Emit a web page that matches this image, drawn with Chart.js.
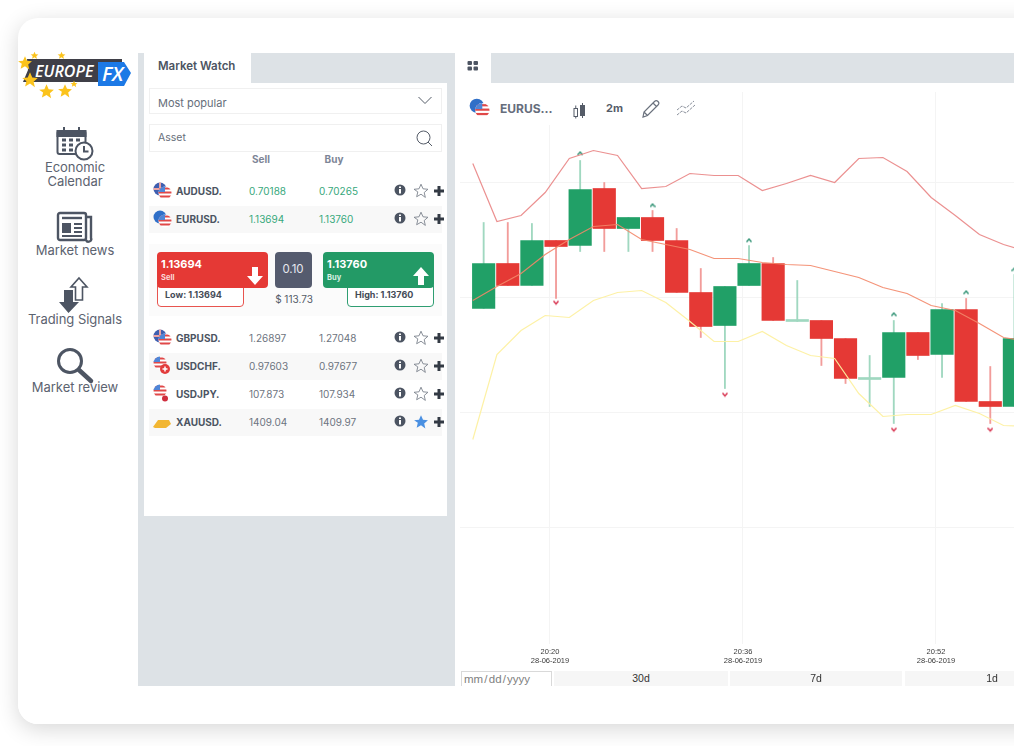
<!DOCTYPE html>
<html>
<head>
<meta charset="utf-8">
<title>Market Watch</title>
<script src="https://cdn.jsdelivr.net/npm/chart.js@4"></script>
<style>
  html, body { margin: 0; width: 1014px; height: 746px; overflow: hidden; background: #fff; font-family: Inter, sans-serif; }
  .abs, .abs * { box-sizing: border-box; }
  .abs { position: absolute; }
  .t { position: absolute; white-space: nowrap; line-height: 14px; transform: translateY(-50%); }
  .c { transform: translate(-50%, -50%); }
  #card { left: 18px; top: 18px; width: 1100px; height: 706px; background: #fff; border-radius: 20px; box-shadow: 0 5px 22px rgba(0,0,0,.16); }
  #clip { left: 0; top: 0; width: 1014px; height: 746px; overflow: hidden; }
  .side { color: #5c6370; font-size: 13px; letter-spacing: -.05px; margin-top: -1px; }
  .row { left: 149px; width: 293px; height: 27px; }
  .alt { background: #f8f8f8; }
  .asset { font-size: 10px; font-weight: 700; color: #4c5462; }
  .price { font-size: 10px; color: #6d7480; }
  .up { color: #37a87c; }
  .btn { background: #f6f6f6; top: 671px; height: 15px; }
</style>
</head>
<body>
<svg width="0" height="0" style="position:absolute">
  <defs>
    <symbol id="star" viewBox="0 0 24 24"><path d="M12 1.8l3 6.9 7.4.7-5.6 4.9 1.7 7.3L12 16.8l-6.5 3.8 1.7-7.3L1.600 9.400l7.400-.7z"/></symbol>
    <clipPath id="cUS"><circle cx="13" cy="12" r="6.500"/></clipPath>
    <symbol id="us" viewBox="0 0 20 20">
      <g clip-path="url(#cUS)">
        <rect x="6" y="5" width="14" height="14" fill="#fff"/>
        <rect x="6" y="6.500" width="14" height="2" fill="#e04848"/>
        <rect x="6" y="10.500" width="14" height="2" fill="#e04848"/>
        <rect x="6" y="14.500" width="14" height="2" fill="#e04848"/>
        <rect x="6" y="5" width="7" height="6" fill="#4f86d8"/>
      </g>
    </symbol>
  </defs>
</svg>
<div id="clip" class="abs">
  <div id="card" class="abs"></div>

  <!-- grey background panels -->
  <div class="abs" style="left:138px;top:53px;width:900px;height:633px;background:#dde2e6"></div>
  <div class="abs" style="left:144px;top:53px;width:107px;height:31px;background:#fff"></div>
  <div class="abs" style="left:144px;top:83px;width:303px;height:433px;background:#fff"></div>
  <div class="abs" style="left:455px;top:53px;width:36px;height:31px;background:#fff"></div>
  <div class="abs" style="left:455px;top:83px;width:600px;height:603px;background:#fff"></div>

  <!-- logo -->
  <svg class="abs" style="left:18px;top:48px" width="118" height="56" viewBox="18 48 118 56">
    <path d="M27 59H122V82H23l5-12z" fill="#3f3f47"/>
    <path d="M98 62H124L131 73 124 86H98z" fill="#1c79e6"/>
    <text x="35" y="77" font-size="16" font-weight="600" font-style="italic" fill="#fff" font-family="'Open Sans'">EUROPE</text>
    <text x="102" y="81" font-size="20" font-weight="600" font-style="italic" fill="#fff" font-family="'Open Sans'">FX</text>
    <g fill="#fbc31c">
      <use href="#star" x="17" y="55" width="16" height="16"/>
      <use href="#star" x="21" y="71" width="18" height="18"/>
      <use href="#star" x="38" y="83" width="17" height="17"/>
      <use href="#star" x="57" y="83" width="16" height="16"/>
      <use href="#star" x="30" y="51" width="9" height="9"/>
      <use href="#star" x="57" y="51" width="9" height="9"/>
      <use href="#star" x="70" y="80" width="8" height="8"/>
    </g>
  </svg>

  <!-- sidebar -->
  <svg class="abs" style="left:55px;top:125px" width="42" height="38" viewBox="0 0 42 38" fill="none" stroke="#4d5563" stroke-width="2">
    <rect x="2.500" y="6" width="28" height="23" rx="2"/>
    <rect x="2.500" y="6" width="28" height="5" fill="#4d5563"/>
    <path d="M9 2v6M24 2v6"/>
    <path d="M7 15h4M14 15h4M21 15h4M7 20h4M14 20h4M7 25h4M14 25h4" stroke-width="3"/>
    <circle cx="29" cy="26" r="8.500" fill="#fff"/><path d="M29 21v5.500h4.500"/>
  </svg>
  <div class="t c side" style="left:75px;top:168px">Economic</div>
  <div class="t c side" style="left:75px;top:182px">Calendar</div>
  <svg class="abs" style="left:55px;top:210px" width="40" height="34" viewBox="0 0 40 34" fill="none" stroke="#4d5563" stroke-width="2.400">
    <rect x="3" y="3" width="28" height="27" rx="2"/>
    <path d="M31 7h5v21a2.500 2.500 0 0 1-5 2" />
    <path d="M7 8h20" /><rect x="7" y="13" width="9" height="10" fill="#4d5563" stroke="none"/>
    <path d="M19 14h8M19 18h8M19 22h8M7 26h20" stroke-width="2"/>
  </svg>
  <div class="t c side" style="left:75px;top:251px">Market news</div>
  <svg class="abs" style="left:58px;top:276px" width="32" height="39" viewBox="0 0 32 39">
    <path d="M21 2l8 9h-4.500v13h-7V11H13z" fill="#fff" stroke="#4d5563" stroke-width="1.600"/>
    <path d="M6 14h9v12h6L10.500 37 1 26h5z" fill="#4d5563"/>
  </svg>
  <div class="t c side" style="left:75px;top:320px">Trading Signals</div>
  <svg class="abs" style="left:55px;top:345px" width="42" height="42" viewBox="0 0 42 42" fill="none" stroke="#4d5563">
    <circle cx="15" cy="16" r="11.500" stroke-width="3"/><path d="M24 25l12 11" stroke-width="4.500" stroke-linecap="round"/>
  </svg>
  <div class="t c side" style="left:75px;top:388px">Market review</div>

  <!-- market watch panel -->
  <div class="t" style="left:158px;top:66px;font-size:11.500px;font-weight:600;color:#4c5462">Market Watch</div>
  <div class="abs" style="left:149px;top:88px;width:293px;height:26px;border:1px solid #f0f0f0"></div>
  <div class="t" style="left:158px;top:103px;font-size:11px;color:#666e7a">Most popular</div>
  <svg class="abs" style="left:418px;top:96px" width="14" height="9" fill="none" stroke="#555c68"><path d="M.5 1l6.500 6.500L13.500 1"/></svg>
  <div class="abs" style="left:149px;top:124px;width:293px;height:28px;border:1px solid #f0f0f0"></div>
  <div class="t" style="left:158px;top:137.500px;font-size:10.500px;color:#666e7a">Asset</div>
  <svg class="abs" style="left:416px;top:130px" width="17" height="17" fill="none" stroke="#555c68"><circle cx="7.500" cy="7.500" r="6.500"/><path d="M12 12l4 4"/></svg>
  <div class="t c" style="left:261px;top:159px;font-size:10px;font-weight:700;color:#7d8597">Sell</div>
  <div class="t c" style="left:334px;top:159px;font-size:10px;font-weight:700;color:#7d8597">Buy</div>
  <div id="rows"></div>

  <!-- order ticket -->
  <div class="abs" style="left:149px;top:244px;width:293px;height:72px;background:#fbfbfb"></div>
  <div class="abs" style="left:157px;top:285px;width:87px;height:22px;border:1px solid #e8544f;border-radius:0 0 4px 4px;background:#fff"></div>
  <div class="abs" style="left:347px;top:285px;width:87px;height:22px;border:1px solid #2f9e72;border-radius:0 0 4px 4px;background:#fff"></div>
  <div class="abs" style="left:157px;top:252px;width:111px;height:36px;background:#e53935;border-radius:4px"></div>
  <div class="abs" style="left:323px;top:252px;width:111px;height:36px;background:#239a66;border-radius:4px"></div>
  <div class="abs" style="left:275px;top:252px;width:37px;height:36px;background:#555b6e;border-radius:4px"></div>
  <div class="t" style="left:161px;top:264px;font-size:11px;font-weight:700;color:#fff">1.13694</div>
  <div class="t" style="left:161px;top:278px;font-size:7.500px;font-weight:700;color:#fbdada">Sell</div>
  <div class="t" style="left:327px;top:264px;font-size:11px;font-weight:700;color:#fff">1.13760</div>
  <div class="t" style="left:327px;top:278px;font-size:7.500px;font-weight:700;color:#d8f0e4">Buy</div>
  <div class="t c" style="left:293px;top:269px;font-size:11.500px;color:#e6e8ee">0.10</div>
  <div class="t c" style="left:294px;top:299px;font-size:10px;color:#555c68">$ 113.73</div>
  <div class="t" style="left:165px;top:295px;font-size:9px;font-weight:700;color:#444b57">Low: 1.13694</div>
  <div class="t" style="left:355px;top:295px;font-size:9px;font-weight:700;color:#444b57">High: 1.13760</div>
  <svg class="abs" style="left:247px;top:267px" width="16" height="18" fill="#fff"><path d="M5 0h6v9h5l-8 9-8-9h5z"/></svg>
  <svg class="abs" style="left:413px;top:267px" width="16" height="18" fill="#fff"><path d="M5 18h6V9h5L8 0 0 9h5z"/></svg>

  <!-- chart -->
  <canvas id="chart" class="abs" width="560" height="580" style="left:460px;top:92px"></canvas>
  <div class="abs" style="left:459px;top:89px;width:255px;height:36px;background:#fff"></div>

  <!-- chart toolbar -->
  <svg class="abs" style="left:465px;top:60px" width="16" height="12" fill="#4c5462"><rect x="2.500" y="1" width="4.500" height="4" rx="1"/><rect x="8.500" y="1" width="4.500" height="4" rx="1"/><rect x="2.500" y="6.500" width="4.500" height="4" rx="1"/><rect x="8.500" y="6.500" width="4.500" height="4" rx="1"/></svg>
  <svg class="abs" style="left:468px;top:97px" width="22" height="22" viewBox="0 0 20 20"><circle cx="8" cy="8" r="6.500" fill="#2f6fc8"/><use href="#us" width="20" height="20"/></svg>
  <div class="t" style="left:500px;top:109px;font-size:12px;font-weight:700;color:#666d7c">EURUS...</div>
  <svg class="abs" style="left:573px;top:102px" width="13" height="17" fill="none" stroke="#555c68"><rect x="1" y="6.500" width="3.500" height="8"/><path d="M2.750 3.500v3M2.750 14.500v2"/><rect x="7.500" y="3.500" width="4" height="10" fill="#555c68"/><path d="M9.500 1v3M9.500 13v3"/></svg>
  <div class="t" style="left:606px;top:108px;font-size:11px;font-weight:700;color:#555c68">2m</div>
  <svg class="abs" style="left:641px;top:99px" width="20" height="20" fill="none" stroke="#6a717d" stroke-width="1.200"><path d="M2 18l1-5L13.500 2.500a2 2 0 0 1 3.500 3.500L6.500 16.500zM3 13l3.500 3.500M12 4l3.500 3.500"/></svg>
  <svg class="abs" style="left:676px;top:100px" width="20" height="17" fill="none" stroke="#8a909b"><path d="M1 15l5-4 4 2 9-8M1 10l5-4 4 2 8-7" stroke-dasharray="3 1"/></svg>

  <!-- range row -->
  <div class="abs" style="left:461px;top:671px;width:91px;height:20px;border:1px solid #d9d9d9;background:#fff"></div>
  <div class="t" style="left:464px;top:679px;font:11.500px 'Liberation Sans';word-spacing:-2px;color:#808080">mm / dd / yyyy</div>
  <div class="abs" style="left:552px;top:671px;width:2px;height:15px;background:#fff"></div>
  <div class="abs btn" style="left:554px;width:174px"></div>
  <div class="abs btn" style="left:730px;width:172px"></div>
  <div class="abs btn" style="left:905px;width:174px"></div>
  <div class="t c" style="left:641px;top:678px;font:10.500px 'Liberation Sans';color:#333">30d</div>
  <div class="t c" style="left:816px;top:678px;font:10.500px 'Liberation Sans';color:#333">7d</div>
  <div class="t c" style="left:992px;top:678px;font:10.500px 'Liberation Sans';color:#333">1d</div>

  <!-- cover below the panels -->
  <div class="abs" style="left:18px;top:686px;width:1100px;height:38px;background:#fff;border-radius:0 0 20px 20px"></div>
</div>

<script>
// quotes table
const assets = ["AUDUSD.", "EURUSD.", "GBPUSD.", "USDCHF.", "USDJPY.", "XAUUSD."];
const sells = ["0.70188", "1.13694", "1.26897", "0.97603", "107.873", "1409.04"];
const buys = ["0.70265", "1.13760", "1.27048", "0.97677", "107.934", "1409.97"];
const rowY = [191, 219, 338, 366, 394, 422];

// candles, 2m, times in minutes of the day
const candleTimes = [1214.5, 1216.5, 1218.5, 1220.5, 1222.5, 1224.5, 1226.5, 1228.5, 1230.5, 1232.5, 1234.5, 1236.5,
  1238.5, 1240.5, 1242.5, 1244.5, 1246.5, 1248.5, 1250.5, 1252.5, 1254.5, 1256.5, 1258.5];
const opens = [1.13689, 1.13734, 1.13712, 1.13757, 1.13752, 1.13809, 1.13769, 1.13780, 1.13757, 1.13705, 1.13672, 1.13712,
  1.13734, 1.13676, 1.13677, 1.13659, 1.13618, 1.13620, 1.13665, 1.13643, 1.13688, 1.13596, 1.13591];
const closes = [1.13734, 1.13712, 1.13757, 1.13751, 1.13808, 1.13769, 1.13780, 1.13757, 1.13705, 1.13671, 1.13711, 1.13734,
  1.13677, 1.13678, 1.13659, 1.13619, 1.13620, 1.13665, 1.13642, 1.13688, 1.13596, 1.13591, 1.13659];
const highs = [1.13775, 1.13775, 1.13774, 1.13757, 1.13837, 1.13815, 1.13780, 1.13787, 1.13769, 1.13729, 1.13711, 1.13752,
  1.13740, 1.13717, 1.13677, 1.13659, 1.13642, 1.13677, 1.13665, 1.13694, 1.13699, 1.13631, 1.13723];
const lows = [1.13689, 1.13712, 1.13712, 1.13699, 1.13746, 1.13746, 1.13746, 1.13746, 1.13705, 1.13660, 1.13609, 1.13712,
  1.13677, 1.13676, 1.13632, 1.13614, 1.13591, 1.13574, 1.13638, 1.13620, 1.13596, 1.13574, 1.13591];

// bollinger bands, they sit a bit left of the candles
const bandTimes = [1213.6, 1215.6, 1217.6, 1219.6, 1221.6, 1223.6, 1225.6, 1227.6, 1229.6, 1231.6, 1233.6, 1235.6,
  1237.6, 1239.6, 1241.6, 1243.6, 1245.6, 1247.6, 1249.6, 1251.6, 1253.6, 1255.6, 1257.6, 1259.6];
const upperBand = [1.13834, 1.13776, 1.13782, 1.13805, 1.13839, 1.13847, 1.13842, 1.13809, 1.13811, 1.13824, 1.13822, 1.13822,
  1.13807, 1.13814, 1.13822, 1.13815, 1.13839, 1.13840, 1.13826, 1.13800, 1.13782, 1.13763, 1.13753, 1.13746];
const middleBand = [1.13697, 1.13711, 1.13724, 1.13743, 1.13758, 1.13771, 1.13773, 1.13758, 1.13753, 1.13748, 1.13739, 1.13739,
  1.13735, 1.13733, 1.13732, 1.13726, 1.13720, 1.13710, 1.13704, 1.13692, 1.13687, 1.13674, 1.13660, 1.13656];
const lowerBand = [1.13558, 1.13643, 1.13667, 1.13682, 1.13680, 1.13697, 1.13705, 1.13707, 1.13695, 1.13676, 1.13656, 1.13656,
  1.13666, 1.13652, 1.13642, 1.13639, 1.13604, 1.13581, 1.13583, 1.13583, 1.13592, 1.13584, 1.13572, 1.13571];

// signal arrows
const upArrowTimes = [1222.5, 1228.5, 1236.5, 1248.5, 1254.5, 1258.5];
const upArrowPrices = [1.13844, 1.13792, 1.13757, 1.13683, 1.13705, 1.13728];
const downArrowTimes = [1220.5, 1234.5, 1248.5, 1256.5];
const downArrowPrices = [1.13695, 1.13603, 1.13568, 1.13568];

// axes
const xTicks = [1220, 1236, 1252];
const xTickLabels = [["20:20", "28-06-2019"], ["20:36", "28-06-2019"], ["20:52", "28-06-2019"]];
const yTicks = [1.13815, 1.13700, 1.13585, 1.13470];

const GREEN = "#21a067";
const RED = "#e53935";
const GREEN_WICK = "#a0d8c0";
const RED_WICK = "#f29c9a";

function pairs(xs, ys) {
  return xs.map((x, i) => ({ x: x, y: ys[i] }));
}

// little round flags for the quote rows
function flagFor(name) {
  let cross = '<path d="M8 1.500v13M1.500 8h13" stroke="#fff" stroke-width="2"/><path d="M8 1.500v13M1.500 8h13" stroke="#d84a4a" stroke-width="1"/>';
  let us = '<use href="#us" width="20" height="20"/>';
  if (name == "XAUUSD.") return '<path d="M1 15l5-7h11l2 4-5 4H3z" fill="#f2b632"/>';
  if (name == "USDCHF.") return `<g transform="translate(-5 -5)">${us}</g><circle cx="13" cy="13" r="5" fill="#e23b3b"/><path d="M13 10.500v5M10.500 13h5" stroke="#fff" stroke-width="1.500"/>`;
  if (name == "USDJPY.") return `<g transform="translate(-5 -5)">${us}</g><circle cx="13" cy="14.500" r="3" fill="#cf2e3e"/>`;
  if (name == "EURUSD.") return `<circle cx="8" cy="8" r="6.500" fill="#2f6fc8"/>${us}`;
  return `<circle cx="8" cy="8" r="6.500" fill="#3f5fb0"/>${cross}${us}`;
}

// build the quote rows
let html = "";
assets.forEach((name, i) => {
  let y = rowY[i];
  let cls = i < 2 ? "price up" : "price";
  if (i % 2 == 1) html += `<div class="abs row alt" style="top:${y - 13}px"></div>`;
  html += `<svg class="abs" style="left:152px;top:${y - 10}px" width="20" height="20" viewBox="0 0 20 20">${flagFor(name)}</svg>`;
  html += `<div class="t asset" style="left:176px;top:${y}px">${name}</div>`;
  html += `<div class="t ${cls}" style="left:249px;top:${y}px">${sells[i]}</div>`;
  html += `<div class="t ${cls}" style="left:319px;top:${y}px">${buys[i]}</div>`;
  html += `<svg class="abs" style="left:394px;top:${y - 7}px" width="12" height="12"><circle cx="6" cy="6" r="5.500" fill="#4c5462"/><rect x="5" y="5" width="2" height="4.500" fill="#fff"/><rect x="5" y="2.500" width="2" height="1.500" fill="#fff"/></svg>`;
  let star = name == "XAUUSD." ? 'fill="#4a90e2"' : 'fill="none" stroke="#777e89" stroke-width="1.300"';
  html += `<svg class="abs" style="left:413px;top:${y - 8}px" width="16" height="16" ${star}><use href="#star" width="16" height="16"/></svg>`;
  html += `<svg class="abs" style="left:434px;top:${y - 5}px" width="10" height="10" fill="#333a44"><path d="M3.500 0h3v3.500H10v3H6.500V10h-3V6.500H0v-3h3.500z"/></svg>`;
});
document.getElementById("rows").innerHTML = html;

// small dojis are drawn in the light colour
function bodyColor(i) {
  let small = Math.abs(opens[i] - closes[i]) < 0.00003;
  if (closes[i] >= opens[i]) return small ? GREEN_WICK : GREEN;
  return small ? RED_WICK : RED;
}

function bandLine(values, color) {
  return {
    type: "line",
    data: pairs(bandTimes, values),
    borderColor: color,
    borderWidth: 1.2,
    pointRadius: 0,
    tension: 0,
    order: 0,
  };
}

// chevron marker for the signals
function chevron(color, down) {
  let c = document.createElement("canvas");
  c.width = 6;
  c.height = 6;
  let ctx = c.getContext("2d");
  ctx.strokeStyle = color;
  ctx.lineWidth = 1.4;
  ctx.beginPath();
  ctx.moveTo(0.5, down ? 1.5 : 4.5);
  ctx.lineTo(3, down ? 4.5 : 1.5);
  ctx.lineTo(5.5, down ? 1.5 : 4.5);
  ctx.stroke();
  return c;
}

function arrows(xs, ys, color, down) {
  return {
    type: "line",
    data: pairs(xs, ys),
    showLine: false,
    pointStyle: chevron(color, down),
    order: 0,
  };
}

new Chart(document.getElementById("chart"), {
  type: "bar",
  data: {
    datasets: [
      {
        data: candleTimes.map((t, i) => ({ x: t, y: [lows[i], highs[i]] })),
        backgroundColor: candleTimes.map((t, i) => (closes[i] >= opens[i] ? GREEN_WICK : RED_WICK)),
        barThickness: 1.2,
        order: 2,
      },
      {
        data: candleTimes.map((t, i) => ({ x: t, y: [opens[i], closes[i]] })),
        backgroundColor: candleTimes.map((t, i) => bodyColor(i)),
        barThickness: 22.5,
        order: 1,
      },
      bandLine(upperBand, "rgba(232,125,125,.85)"),
      bandLine(middleBand, "rgba(243,135,105,.9)"),
      bandLine(lowerBand, "rgba(253,240,160,.95)"),
      arrows(upArrowTimes, upArrowPrices, "#2a8f70", false),
      arrows(downArrowTimes, downArrowPrices, "#d62a48", true),
    ],
  },
  options: {
    responsive: false,
    animation: false,
    devicePixelRatio: 1,
    layout: { padding: 0, autoPadding: false },
    datasets: { bar: { grouped: false } },
    plugins: { legend: { display: false }, tooltip: { enabled: false } },
    scales: {
      x: {
        type: "linear",
        offset: false,
        min: 1212.539,
        max: 1258.964,
        grid: { offset: false, color: "#f4f4f4", drawTicks: false },
        border: { display: false },
        afterBuildTicks: (s) => { s.ticks = xTicks.map((v) => ({ value: v })); },
        afterFit: (s) => { s.height = 28; },
        ticks: {
          autoSkip: false,
          maxRotation: 0,
          padding: 4,
          color: "#3a3a3a",
          font: { family: "'Liberation Sans'", size: 7.5, lineHeight: 1.15 },
          callback: (v, i) => xTickLabels[i],
        },
      },
      y: {
        min: 1.133535,
        max: 1.139055,
        grid: { color: "#f4f4f4", drawTicks: false },
        border: { display: false },
        afterBuildTicks: (s) => { s.ticks = yTicks.map((v) => ({ value: v })); },
        afterFit: (s) => { s.width = 0; },
        ticks: { display: false },
      },
    },
  },
});
</script>
</body>
</html>
